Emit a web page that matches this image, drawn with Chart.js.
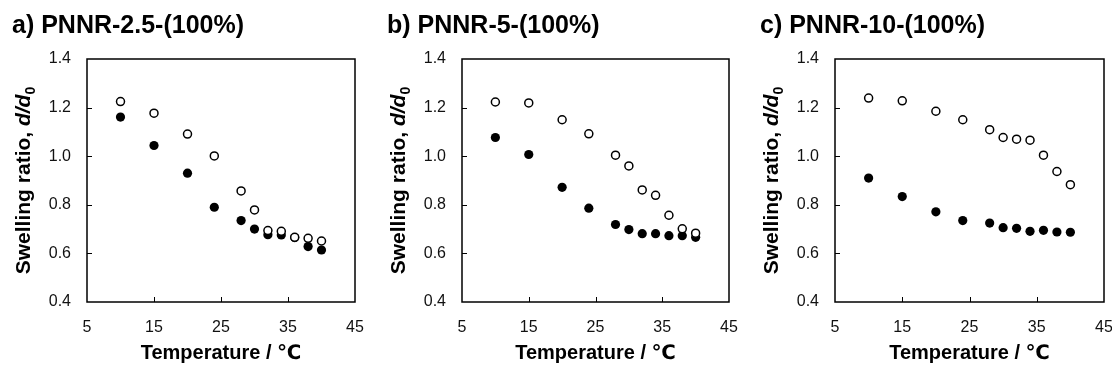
<!DOCTYPE html>
<html>
<head>
<meta charset="utf-8">
<script src="https://cdn.jsdelivr.net/npm/chart.js@4/dist/chart.umd.min.js"></script>
<style>
    html, body { margin: 0; padding: 0; background: #fff; overflow: hidden; }
    body { width: 1112px; height: 372px; position: relative; }
    .panel { position: absolute; top: 0; height: 372px; }
</style>
</head>
<body>
<div class="panel" style="left:0px;width:371px"><canvas id="chartA"></canvas></div>
<div class="panel" style="left:371px;width:371px"><canvas id="chartB"></canvas></div>
<div class="panel" style="left:742px;width:380px"><canvas id="chartC"></canvas></div>

<script>
// temperature (°C) shared by all three samples
const temperature = [10, 15, 20, 24, 28, 30, 32, 34, 36, 38, 40];

// a) PNNR-2.5-(100%)
const openA   = [1.225, 1.177, 1.091, 1.001, 0.857, 0.779, 0.694, 0.691, 0.666, 0.662, 0.651];
const filledA = [1.161, 1.044, 0.930, 0.790, 0.735, 0.700, 0.677, 0.676, 0.665, 0.628, 0.614];

// b) PNNR-5-(100%)
const openB   = [1.223, 1.219, 1.150, 1.092, 1.004, 0.960, 0.861, 0.839, 0.757, 0.701, 0.683];
const filledB = [1.077, 1.007, 0.872, 0.786, 0.719, 0.698, 0.681, 0.681, 0.673, 0.673, 0.666];

// c) PNNR-10-(100%)
const openC   = [1.239, 1.228, 1.185, 1.150, 1.109, 1.077, 1.070, 1.066, 1.004, 0.937, 0.883];
const filledC = [0.910, 0.834, 0.771, 0.735, 0.725, 0.706, 0.703, 0.691, 0.695, 0.688, 0.687];

const panelTitles = ["a) PNNR-2.5-(100%)", "b) PNNR-5-(100%)", "c) PNNR-10-(100%)"];
const xTitle = "Temperature / \u2103";

const FONT = "'Liberation Sans', Arial, 'DejaVu Sans', sans-serif";

function toPoints(xs, ys) {
    return xs.map((x, i) => ({ x: x, y: ys[i] }));
}

// box, inward tick marks, panel title and the mixed-style y title
const framePlugin = {
    id: "frame",
    afterDraw(chart, args, opts) {
        const ctx = chart.ctx;
        const area = chart.chartArea;
        const xs = chart.scales.x;
        const ys = chart.scales.y;

        ctx.save();
        ctx.strokeStyle = "#000";
        ctx.lineWidth = 1.5;
        ctx.strokeRect(area.left, area.top, area.right - area.left, area.bottom - area.top);

        ctx.lineWidth = 1;
        ctx.beginPath();
        xs.ticks.forEach(t => {
            if (t.value <= xs.min || t.value >= xs.max) return;
            const px = Math.round(xs.getPixelForValue(t.value)) + 0.5;
            ctx.moveTo(px, area.bottom);
            ctx.lineTo(px, area.bottom - 5);
        });
        ys.ticks.forEach(t => {
            if (t.value <= ys.min + 1e-9 || t.value >= ys.max - 1e-9) return;
            const py = Math.round(ys.getPixelForValue(t.value)) + 0.5;
            ctx.moveTo(area.left, py);
            ctx.lineTo(area.left + 5, py);
        });
        ctx.stroke();

        // panel title
        ctx.fillStyle = "#000";
        ctx.font = "bold 25px " + FONT;
        ctx.textAlign = "left";
        ctx.textBaseline = "alphabetic";
        ctx.fillText(opts.title, area.left - 75, 33);

        // y axis title: "Swelling ratio, d/d0"
        const parts = [
            { text: "Swelling ratio, ", font: "bold 21px " + FONT, dy: 0 },
            { text: "d/d", font: "italic bold 21px " + FONT, dy: 0 },
            { text: "0", font: "bold 14px " + FONT, dy: 5 }
        ];
        let total = 0;
        parts.forEach(p => { ctx.font = p.font; p.w = ctx.measureText(p.text).width; total += p.w; });
        const cy = (area.top + area.bottom) / 2;
        ctx.translate(area.left - 57, cy);
        ctx.rotate(-Math.PI / 2);
        let x = -total / 2;
        parts.forEach(p => {
            ctx.font = p.font;
            ctx.fillText(p.text, x, p.dy);
            x += p.w;
        });
        ctx.restore();
    }
};

function makeChart(id, title, openVals, filledVals, plotLeft, padRight) {
    return new Chart(document.getElementById(id), {
        type: "scatter",
        data: {
            datasets: [
                {
                    label: "open",
                    data: toPoints(temperature, openVals),
                    backgroundColor: "#fff",
                    borderColor: "#000",
                    borderWidth: 1.5,
                    pointRadius: 4,
                    order: 0
                },
                {
                    label: "filled",
                    data: toPoints(temperature, filledVals),
                    backgroundColor: "#000",
                    borderColor: "#000",
                    borderWidth: 0,
                    pointRadius: 4.6,
                    order: 1
                }
            ]
        },
        options: {
            responsive: true,
            maintainAspectRatio: false,
            animation: false,
            events: [],
            layout: { padding: { top: 59, right: padRight, bottom: 0, left: 0 } },
            plugins: {
                legend: { display: false },
                tooltip: { enabled: false },
                frame: { title: title }
            },
            scales: {
                x: {
                    type: "linear",
                    min: 5,
                    max: 45,
                    grid: { display: false, drawTicks: false },
                    border: { display: false },
                    ticks: {
                        stepSize: 10,
                        padding: 16,
                        color: "#111",
                        font: { family: FONT, size: 16 },
                        callback: v => String(v)
                    },
                    title: {
                        display: true,
                        text: xTitle,
                        color: "#000",
                        padding: { top: 0, bottom: 7 },
                        font: { family: FONT, size: 20, weight: "bold" }
                    },
                    afterFit: s => {
                        s.height = 70;
                        s.paddingLeft = 0;
                        s.paddingRight = 0;
                    }
                },
                y: {
                    min: 0.4,
                    max: 1.4,
                    grid: { display: false, drawTicks: false },
                    border: { display: false },
                    ticks: {
                        stepSize: 0.2,
                        padding: 16,
                        color: "#111",
                        font: { family: FONT, size: 16 },
                        callback: v => v.toFixed(1)
                    },
                    afterFit: s => {
                        s.width = plotLeft;
                        s.paddingTop = 0;
                        s.paddingBottom = 0;
                    }
                }
            }
        },
        plugins: [framePlugin]
    });
}

makeChart("chartA", panelTitles[0], openA, filledA, 87, 16);
makeChart("chartB", panelTitles[1], openB, filledB, 91, 13);
makeChart("chartC", panelTitles[2], openC, filledC, 93, 18);
</script>
</body>
</html>
